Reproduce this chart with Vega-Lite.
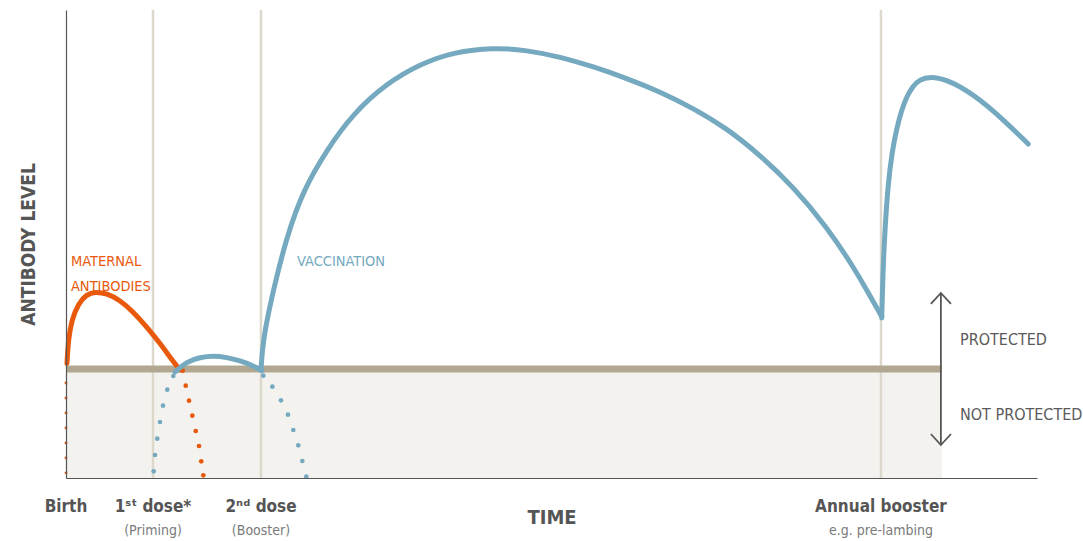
{
  "$schema": "https://vega.github.io/schema/vega-lite/v6.json",
  "width": 971,
  "height": 468,
  "autosize": {"type": "none"},
  "padding": {"left": 66, "top": 10, "right": 46, "bottom": 63},
  "background": "white",
  "config": {
    "view": {"stroke": null},
    "font": "DejaVu Sans Condensed, sans-serif"
  },
  "datasets": {
    "shade": [{"x": 0, "x2": 90.2, "y": 0, "y2": 23.3}],
    "grid": [{"x": 8.96, "y": 0, "y2": 100}, {"x": 20.08, "y": 0, "y2": 100}, {"x": 83.93, "y": 0, "y2": 100}],
    "threshold": [{"x": 0, "x2": 90.2, "y": 23.3}],
    "arrow": [
      {"part": "shaft", "o": 0, "x": 90.1, "y": 7.05},
      {"part": "shaft", "o": 1, "x": 90.1, "y": 39.53},
      {"part": "top", "o": 0, "x": 89.07, "y": 37.2},
      {"part": "top", "o": 1, "x": 90.1, "y": 39.53},
      {"part": "top", "o": 2, "x": 91.14, "y": 37.2},
      {"part": "bottom", "o": 0, "x": 89.07, "y": 9.4},
      {"part": "bottom", "o": 1, "x": 90.1, "y": 7.05},
      {"part": "bottom", "o": 2, "x": 91.14, "y": 9.4}
    ],
    "axisdots": [
      {"c": "maternal", "x": 0, "y": 20.3},
      {"c": "maternal", "x": 0, "y": 17.1},
      {"c": "maternal", "x": 0, "y": 13.9},
      {"c": "maternal", "x": 0, "y": 10.7},
      {"c": "maternal", "x": 0, "y": 7.5},
      {"c": "maternal", "x": 0, "y": 4.3},
      {"c": "maternal", "x": 0, "y": 1.1}
    ],
    "dots": [
      {"c": "maternal", "x": 12.02, "y": 22.93},
      {"c": "maternal", "x": 12.33, "y": 19.72},
      {"c": "maternal", "x": 12.67, "y": 16.52},
      {"c": "maternal", "x": 13.01, "y": 13.31},
      {"c": "maternal", "x": 13.36, "y": 10.04},
      {"c": "maternal", "x": 13.7, "y": 6.84},
      {"c": "maternal", "x": 13.93, "y": 3.57},
      {"c": "maternal", "x": 14.14, "y": 0.58},
      {"c": "vaccine", "x": 9.03, "y": 1.43},
      {"c": "vaccine", "x": 9.17, "y": 4.91},
      {"c": "vaccine", "x": 9.4, "y": 8.4},
      {"c": "vaccine", "x": 9.68, "y": 11.97},
      {"c": "vaccine", "x": 9.99, "y": 15.45},
      {"c": "vaccine", "x": 10.43, "y": 18.87},
      {"c": "vaccine", "x": 11.05, "y": 21.79},
      {"c": "vaccine", "x": 20.32, "y": 21.86},
      {"c": "vaccine", "x": 21.25, "y": 19.51},
      {"c": "vaccine", "x": 22.14, "y": 16.6},
      {"c": "vaccine", "x": 22.86, "y": 13.53},
      {"c": "vaccine", "x": 23.41, "y": 10.26},
      {"c": "vaccine", "x": 23.92, "y": 6.99},
      {"c": "vaccine", "x": 24.34, "y": 3.63},
      {"c": "vaccine", "x": 24.75, "y": 0.28}
    ],
    "curves": [
      {"series": "mat", "c": "maternal", "x": 0.1, "y": 24.5},
      {"series": "mat", "c": "maternal", "x": 0.24, "y": 29.5},
      {"series": "mat", "c": "maternal", "x": 0.59, "y": 33.8},
      {"series": "mat", "c": "maternal", "x": 1.27, "y": 37.3},
      {"series": "mat", "c": "maternal", "x": 2.13, "y": 39.25},
      {"series": "mat", "c": "maternal", "x": 2.99, "y": 39.8},
      {"series": "mat", "c": "maternal", "x": 4.19, "y": 39.45},
      {"series": "mat", "c": "maternal", "x": 5.56, "y": 38.0},
      {"series": "mat", "c": "maternal", "x": 6.93, "y": 35.5},
      {"series": "mat", "c": "maternal", "x": 8.31, "y": 32.3},
      {"series": "mat", "c": "maternal", "x": 9.68, "y": 28.8},
      {"series": "mat", "c": "maternal", "x": 11.05, "y": 24.85},
      {"series": "mat", "c": "maternal", "x": 11.74, "y": 23.1},
      {"series": "prime", "c": "vaccine", "x": 11.23, "y": 22.65},
      {"series": "prime", "c": "vaccine", "x": 12.43, "y": 24.85},
      {"series": "prime", "c": "vaccine", "x": 13.8, "y": 25.79},
      {"series": "prime", "c": "vaccine", "x": 15.17, "y": 26.1},
      {"series": "prime", "c": "vaccine", "x": 16.55, "y": 25.79},
      {"series": "prime", "c": "vaccine", "x": 17.92, "y": 25.06},
      {"series": "prime", "c": "vaccine", "x": 19.29, "y": 24.0},
      {"series": "prime", "c": "vaccine", "x": 20.15, "y": 22.93},
      {"series": "vac", "c": "vaccine", "x": 20.08, "y": 23.08},
      {"series": "vac", "c": "vaccine", "x": 20.22, "y": 27.35},
      {"series": "vac", "c": "vaccine", "x": 20.49, "y": 31.62},
      {"series": "vac", "c": "vaccine", "x": 21.35, "y": 40.17},
      {"series": "vac", "c": "vaccine", "x": 22.73, "y": 51.56},
      {"series": "vac", "c": "vaccine", "x": 24.44, "y": 61.54},
      {"series": "vac", "c": "vaccine", "x": 26.85, "y": 70.09},
      {"series": "vac", "c": "vaccine", "x": 29.59, "y": 77.93},
      {"series": "vac", "c": "vaccine", "x": 33.03, "y": 84.34},
      {"series": "vac", "c": "vaccine", "x": 36.46, "y": 88.45},
      {"series": "vac", "c": "vaccine", "x": 39.89, "y": 91.0},
      {"series": "vac", "c": "vaccine", "x": 44.01, "y": 92.0},
      {"series": "vac", "c": "vaccine", "x": 47.45, "y": 91.4},
      {"series": "vac", "c": "vaccine", "x": 50.88, "y": 90.0},
      {"series": "vac", "c": "vaccine", "x": 54.31, "y": 87.88},
      {"series": "vac", "c": "vaccine", "x": 57.74, "y": 85.41},
      {"series": "vac", "c": "vaccine", "x": 61.17, "y": 82.54},
      {"series": "vac", "c": "vaccine", "x": 64.6, "y": 79.0},
      {"series": "vac", "c": "vaccine", "x": 68.04, "y": 74.72},
      {"series": "vac", "c": "vaccine", "x": 71.47, "y": 69.02},
      {"series": "vac", "c": "vaccine", "x": 74.9, "y": 62.24},
      {"series": "vac", "c": "vaccine", "x": 78.34, "y": 53.7},
      {"series": "vac", "c": "vaccine", "x": 81.08, "y": 45.15},
      {"series": "vac", "c": "vaccine", "x": 82.59, "y": 39.74},
      {"series": "vac", "c": "vaccine", "x": 84.01, "y": 34.47},
      {"series": "boost", "c": "vaccine", "x": 84.01, "y": 34.19},
      {"series": "boost", "c": "vaccine", "x": 84.14, "y": 44.44},
      {"series": "boost", "c": "vaccine", "x": 84.35, "y": 53.42},
      {"series": "boost", "c": "vaccine", "x": 84.65, "y": 62.61},
      {"series": "boost", "c": "vaccine", "x": 85.07, "y": 69.66},
      {"series": "boost", "c": "vaccine", "x": 85.58, "y": 75.0},
      {"series": "boost", "c": "vaccine", "x": 86.1, "y": 78.85},
      {"series": "boost", "c": "vaccine", "x": 86.61, "y": 81.62},
      {"series": "boost", "c": "vaccine", "x": 87.23, "y": 83.76},
      {"series": "boost", "c": "vaccine", "x": 87.85, "y": 85.04},
      {"series": "boost", "c": "vaccine", "x": 88.98, "y": 85.85},
      {"series": "boost", "c": "vaccine", "x": 90.7, "y": 85.1},
      {"series": "boost", "c": "vaccine", "x": 92.76, "y": 82.91},
      {"series": "boost", "c": "vaccine", "x": 95.5, "y": 78.63},
      {"series": "boost", "c": "vaccine", "x": 99.1, "y": 71.37}
    ],
    "annot": [
      {"t": "MATERNAL", "x": 0.51, "y": 45.3, "c": "maternal"},
      {"t": "ANTIBODIES", "x": 0.51, "y": 40.06, "c": "maternal"},
      {"t": "VACCINATION", "x": 23.79, "y": 45.3, "c": "vaccine"}
    ],
    "prot": [
      {"t": "PROTECTED", "x": 92.07, "y": 28.42},
      {"t": "NOT PROTECTED", "x": 92.07, "y": 12.39}
    ],
    "xlab": [
      {"t": "Birth", "x": 0, "y": -7.26},
      {"t": "1ˢᵗ dose*", "x": 8.96, "y": -7.26},
      {"t": "2ⁿᵈ dose", "x": 20.08, "y": -7.26},
      {"t": "Annual booster", "x": 83.93, "y": -7.26}
    ],
    "xsub": [
      {"t": "(Priming)", "x": 8.96, "y": -12.18},
      {"t": "(Booster)", "x": 20.08, "y": -12.18},
      {"t": "e.g. pre-lambing", "x": 83.93, "y": -12.18}
    ]
  },
  "encoding": {
    "x": {"field": "x", "type": "quantitative", "scale": {"domain": [0, 100], "nice": false, "zero": false},
      "axis": {"title": "TIME", "labels": false, "ticks": false, "grid": false, "domainColor": "#555555", "domainWidth": 1.2, "titleFont": "DejaVu Sans Condensed, sans-serif", "titleFontSize": 20, "titleFontWeight": "bold", "titleColor": "#555555", "titlePadding": 29, "zindex": 1}},
    "y": {"field": "y", "type": "quantitative", "scale": {"domain": [0, 100], "nice": false, "zero": false},
      "axis": {"title": "ANTIBODY LEVEL", "labels": false, "ticks": false, "grid": false, "domainColor": "#555555", "domainWidth": 1.2, "titleFont": "DejaVu Sans Condensed, sans-serif", "titleFontSize": 19, "titleFontWeight": "bold", "titleColor": "#555555", "titlePadding": 28, "zindex": 1}}
  },
  "layer": [
    {
      "data": {"name": "shade"},
      "mark": {"type": "rect", "fill": "#F4F2EE"},
      "encoding": {"x2": {"field": "x2"}, "y2": {"field": "y2"}}
    },
    {
      "data": {"name": "grid"},
      "mark": {"type": "rule", "color": "#DDD8CC", "strokeWidth": 2.5},
      "encoding": {"y2": {"field": "y2"}}
    },
    {
      "data": {"name": "threshold"},
      "mark": {"type": "rule", "color": "#B2A892", "strokeWidth": 7},
      "encoding": {"x2": {"field": "x2"}}
    },
    {
      "data": {"name": "arrow"},
      "mark": {"type": "line", "color": "#555555", "strokeWidth": 1.8, "interpolate": "linear"},
      "encoding": {"detail": {"field": "part"}, "order": {"field": "o"}}
    },
    {
      "data": {"name": "axisdots"},
      "mark": {"type": "point", "filled": true, "size": 8, "opacity": 1, "color": "#E8590C"},
      "encoding": {}
    },
    {
      "data": {"name": "dots"},
      "mark": {"type": "point", "filled": true, "size": 22, "opacity": 1},
      "encoding": {
        "color": {"field": "c", "type": "nominal", "scale": {"domain": ["maternal", "vaccine"], "range": ["#E8590C", "#74A9C0"]}, "legend": null}
      }
    },
    {
      "data": {"name": "curves"},
      "mark": {"type": "line", "strokeWidth": 5, "interpolate": "basis", "strokeCap": "round"},
      "encoding": {
        "detail": {"field": "series"},
        "color": {"field": "c", "type": "nominal", "legend": null}
      }
    },
    {
      "data": {"name": "annot"},
      "mark": {"type": "text", "align": "left", "baseline": "alphabetic", "fontSize": 14.5},
      "encoding": {
        "text": {"field": "t"},
        "color": {"field": "c", "type": "nominal", "legend": null}
      }
    },
    {
      "data": {"name": "prot"},
      "mark": {"type": "text", "align": "left", "baseline": "alphabetic", "fontSize": 16, "color": "#5A5A5A"},
      "encoding": {"text": {"field": "t"}}
    },
    {
      "data": {"name": "xlab"},
      "mark": {"type": "text", "align": "center", "baseline": "alphabetic", "fontSize": 17, "fontWeight": "bold", "color": "#555555"},
      "encoding": {"text": {"field": "t"}}
    },
    {
      "data": {"name": "xsub"},
      "mark": {"type": "text", "align": "center", "baseline": "alphabetic", "fontSize": 14, "color": "#7A7A7A"},
      "encoding": {"text": {"field": "t"}}
    }
  ]
}
